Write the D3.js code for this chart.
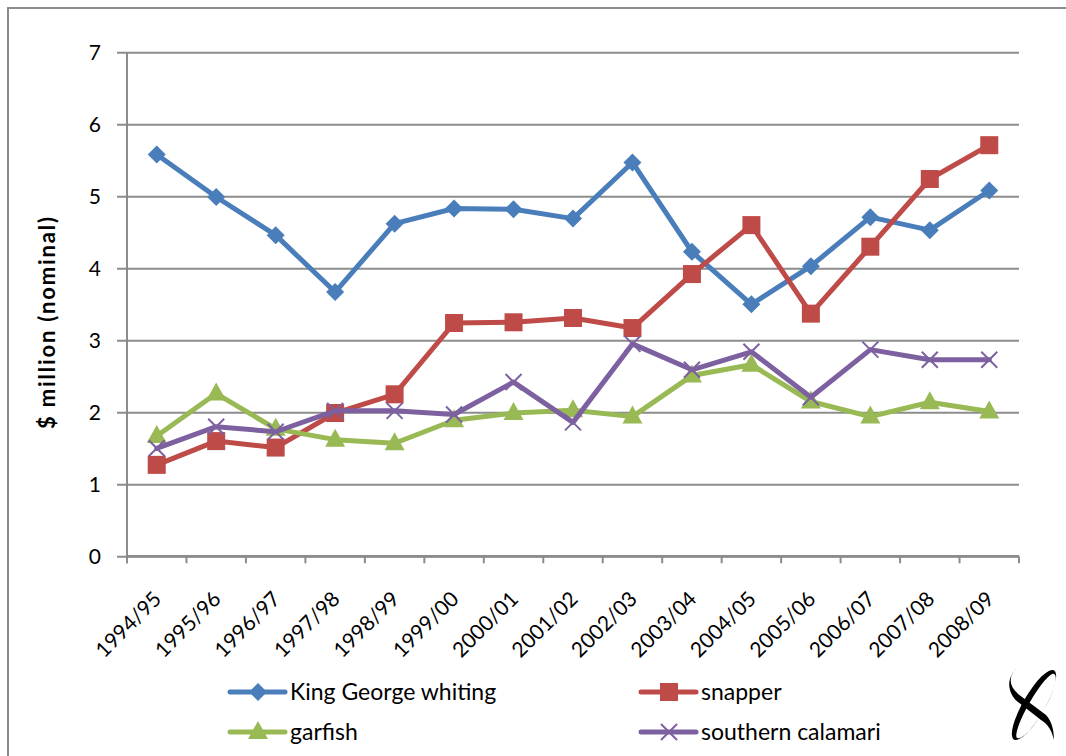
<!DOCTYPE html>
<html>
<head>
<meta charset="utf-8">
<script src="https://cdn.jsdelivr.net/npm/d3@7"></script>
<style>
  html, body { margin: 0; padding: 0; background: #fff; }
  svg { display: block; }
  text { font-family: Lato, "Open Sans", sans-serif; fill: #000; }
</style>
</head>
<body>
<svg id="chart" width="1066" height="756"></svg>
<script>
// Seasons (financial years)
const seasons = ["1994/95","1995/96","1996/97","1997/98","1998/99","1999/00","2000/01",
  "2001/02","2002/03","2003/04","2004/05","2005/06","2006/07","2007/08","2008/09"];

// Gross value of catch, $ million (nominal)
const kingGeorgeWhiting = [5.58, 4.99, 4.46, 3.67, 4.62, 4.83, 4.82, 4.69, 5.47, 4.23, 3.50, 4.03, 4.71, 4.53, 5.08];
const snapper           = [1.27, 1.60, 1.51, 1.99, 2.25, 3.24, 3.25, 3.31, 3.17, 3.92, 4.60, 3.37, 4.30, 5.24, 5.71];
const garfish           = [1.67, 2.26, 1.77, 1.62, 1.57, 1.89, 1.99, 2.03, 1.94, 2.51, 2.66, 2.15, 1.94, 2.14, 2.01];
const southernCalamari  = [1.50, 1.80, 1.73, 2.02, 2.02, 1.97, 2.42, 1.86, 2.95, 2.59, 2.84, 2.21, 2.87, 2.73, 2.73];

const yTicks = [0, 1, 2, 3, 4, 5, 6, 7];
const yTitle = "$ million (nominal)";

const series = [
  { name: "King George whiting", values: kingGeorgeWhiting, color: "#4a7ebb", marker: "diamond" },
  { name: "snapper",             values: snapper,           color: "#be4b48", marker: "square" },
  { name: "garfish",             values: garfish,           color: "#98b954", marker: "triangle" },
  { name: "southern calamari",   values: southernCalamari,  color: "#7d60a0", marker: "cross" }
];

const svg = d3.select("#chart");
const plot = { left: 127, right: 1019, top: 52.3, bottom: 556.3 };
const gridColor = "#8c8c8c";

// outer frame
svg.append("rect")
  .attr("x", 8).attr("y", 8).attr("width", 1100).attr("height", 800)
  .attr("fill", "none").attr("stroke", "#8c8c8c").attr("stroke-width", 2);

const x = d3.scaleBand().domain(seasons).range([plot.left, plot.right]).paddingInner(0).paddingOuter(0);
const y = d3.scaleLinear().domain([0, 7]).range([plot.bottom, plot.top]);
const cx = d => x(d) + x.bandwidth() / 2;

// horizontal gridlines + y axis ticks
const yAxis = d3.axisLeft(y).tickValues(yTicks).tickSizeInner(plot.right - plot.left + 10).tickSizeOuter(0).tickFormat(d3.format("d"));
const gy = svg.append("g").attr("transform", `translate(${plot.right},0)`).call(yAxis);
gy.select(".domain").remove();
gy.selectAll(".tick line").attr("stroke", gridColor).attr("stroke-width", 2);
gy.selectAll(".tick text").attr("x", -(plot.right - plot.left) - 26)
  .attr("dy", "0.36em")
  .style("font-size", "21px").attr("fill", "#000");

// vertical axis line
svg.append("line")
  .attr("x1", plot.left).attr("x2", plot.left)
  .attr("y1", plot.top).attr("y2", plot.bottom + 7)
  .attr("stroke", gridColor).attr("stroke-width", 2);

// category axis: ticks at band boundaries, labels rotated
const boundaries = seasons.map(s => x(s)).concat([plot.right]);
const gx = svg.append("g");
gx.append("line")
  .attr("x1", plot.left).attr("x2", plot.right)
  .attr("y1", plot.bottom).attr("y2", plot.bottom)
  .attr("stroke", gridColor).attr("stroke-width", 2.5);
gx.selectAll("line.tk").data(boundaries).join("line").attr("class", "tk")
  .attr("x1", d => d).attr("x2", d => d)
  .attr("y1", plot.bottom).attr("y2", plot.bottom + 7)
  .attr("stroke", gridColor).attr("stroke-width", 2);
gx.selectAll("text").data(seasons).join("text")
  .attr("text-anchor", "end")
  .attr("transform", d => `translate(${cx(d) + 6},${plot.bottom + 44}) rotate(-45)`)
  .style("font-size", "21px")
  .text(d => d);

// y axis title
svg.append("text")
  .attr("transform", `translate(55,323) rotate(-90)`)
  .attr("text-anchor", "middle")
  .style("font-size", "22px").style("font-weight", "bold")
  .attr("textLength", 212).attr("lengthAdjust", "spacing")
  .text(yTitle);

// marker drawing
function drawMarker(g, type, color, px, py) {
  if (type === "diamond") {
    g.append("path").attr("d", `M${px},${py - 9}L${px + 9},${py}L${px},${py + 9}L${px - 9},${py}Z`)
      .attr("fill", color);
  } else if (type === "square") {
    g.append("rect").attr("x", px - 9).attr("y", py - 9).attr("width", 18).attr("height", 18)
      .attr("fill", color);
  } else if (type === "triangle") {
    g.append("path").attr("d", `M${px},${py - 11}L${px + 10},${py + 7}L${px - 10},${py + 7}Z`)
      .attr("fill", color);
  } else if (type === "cross") {
    g.append("path").attr("d", `M${px - 8},${py - 8}L${px + 8},${py + 8}M${px + 8},${py - 8}L${px - 8},${py + 8}`)
      .attr("stroke", color).attr("stroke-width", 2).attr("fill", "none");
  }
}

const line = d3.line().x(d => cx(d.s)).y(d => y(d.v));
series.forEach(sr => {
  const pts = seasons.map((s, i) => ({ s, v: sr.values[i] }));
  const g = svg.append("g");
  g.append("path").datum(pts).attr("d", line)
    .attr("fill", "none").attr("stroke", sr.color).attr("stroke-width", 5)
    .attr("stroke-linejoin", "round").attr("stroke-linecap", "round");
  pts.forEach(p => drawMarker(g, sr.marker, sr.color, cx(p.s), y(p.v)));
});

// legend
const legendPos = [
  { x: 230, y: 692 }, { x: 641, y: 692 },
  { x: 230, y: 732 }, { x: 641, y: 732 }
];
series.forEach((sr, i) => {
  const p = legendPos[i];
  const g = svg.append("g");
  g.append("line").attr("x1", p.x).attr("x2", p.x + 55).attr("y1", p.y).attr("y2", p.y)
    .attr("stroke", sr.color).attr("stroke-width", 5).attr("stroke-linecap", "round");
  drawMarker(g, sr.marker, sr.color, p.x + 28, p.y);
  g.append("text").attr("x", p.x + 60).attr("y", p.y + 8)
    .style("font-size", "23px").text(sr.name);
});

// logo mark, lower right: narrow tilted ring crossed by a curved ribbon
const logo = svg.append("g").attr("transform", "translate(1034,705)");
logo.append("path")
  .attr("fill-rule", "evenodd")
  .attr("transform", "rotate(30)")
  .attr("d",
    "M0,-40 A11,40 0 1,0 0,40 A11,40 0 1,0 0,-40 Z" +
    "M2,-37 A7,37 0 1,0 2,37 A9,37 0 1,0 2,-37 Z")
  .attr("fill", "#000");
logo.append("path")
  .attr("d", "M-17,-37 C-27,-28 -25,-17 -12,-8 L12,10 C18,16 20,26 20,35 " +
             "C18,26 14,19 7,15 L-16,-3 C-28,-13 -27,-28 -17,-37 Z")
  .attr("fill", "#000");
</script>
</body>
</html>
